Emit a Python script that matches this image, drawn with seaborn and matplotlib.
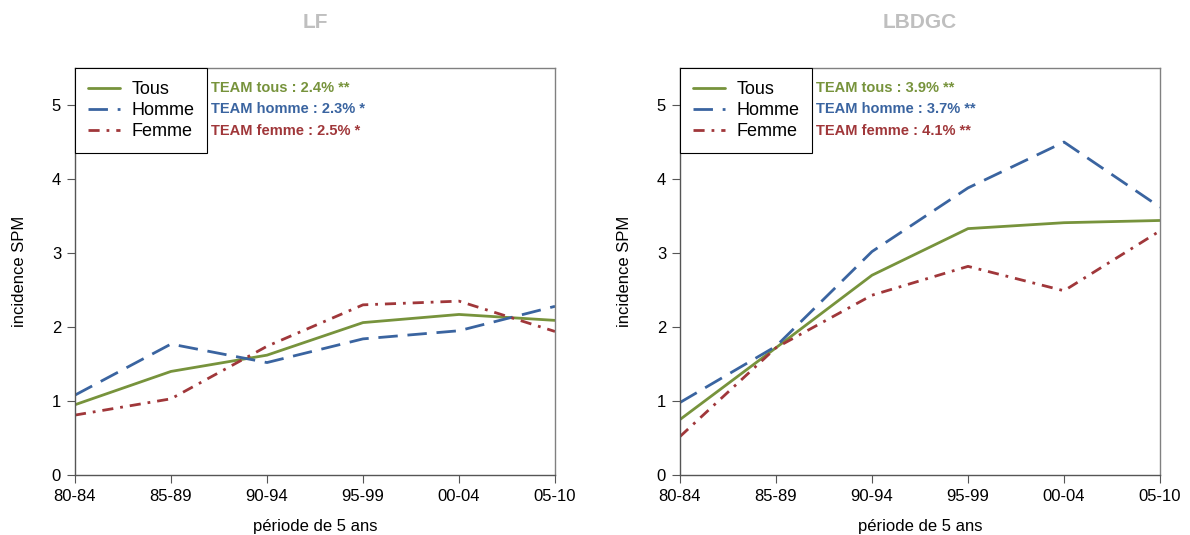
import pandas as pd
import seaborn as sns
import matplotlib.pyplot as plt
from matplotlib.lines import Line2D

periodes = ["80-84", "85-89", "90-94", "95-99", "00-04", "05-10"]
groupes = ["Tous", "Homme", "Femme"]

lf_tous = [0.95, 1.40, 1.62, 2.06, 2.17, 2.09]
lf_homme = [1.08, 1.77, 1.52, 1.84, 1.95, 2.28]
lf_femme = [0.81, 1.03, 1.74, 2.30, 2.35, 1.94]

lbdgc_tous = [0.75, 1.72, 2.70, 3.33, 3.41, 3.44]
lbdgc_homme = [0.98, 1.74, 3.02, 3.88, 4.50, 3.62]
lbdgc_femme = [0.52, 1.72, 2.43, 2.82, 2.49, 3.30]

team_lf = ["TEAM tous : 2.4% **", "TEAM homme : 2.3% *", "TEAM femme : 2.5% *"]
team_lbdgc = ["TEAM tous : 3.9% **", "TEAM homme : 3.7% **", "TEAM femme : 4.1% **"]

couleurs = {"Tous": "#77933C", "Homme": "#3A64A0", "Femme": "#A0373A"}
tirets = {"Tous": "", "Homme": (7, 3.5), "Femme": (4, 2.5, 1, 2.5)}

sns.set_style("ticks")
plt.rcParams['font.family'] = ['Liberation Sans', 'DejaVu Sans']
plt.rcParams['text.color'] = 'black'
plt.rcParams['axes.labelcolor'] = 'black'
plt.rcParams['xtick.color'] = 'black'
plt.rcParams['ytick.color'] = 'black'


def long_df(tous, homme, femme):
    rows = []
    for g, vals in zip(groupes, [tous, homme, femme]):
        for i, v in enumerate(vals):
            rows.append({"x": i, "groupe": g, "val": v})
    return pd.DataFrame(rows)


def panel(ax, df, titre, team):
    sns.lineplot(data=df, x="x", y="val", hue="groupe", style="groupe",
                 palette=couleurs, dashes=tirets, hue_order=groupes,
                 style_order=groupes, linewidth=2, ax=ax, legend=False)
    ax.set_xlim(0, len(periodes) - 1)
    ax.set_ylim(0, 5.5)
    ax.set_xticks(range(len(periodes)))
    ax.set_xticklabels(periodes, fontsize=12)
    ax.set_yticks(range(6))
    ax.set_yticklabels([str(i) for i in range(6)], fontsize=12)
    ax.set_xlabel("période de 5 ans", fontsize=12, labelpad=11)
    ax.set_ylabel("incidence SPM", fontsize=12, labelpad=18)
    ax.tick_params(length=6, color="#555555", pad=4)
    for s in ax.spines.values():
        s.set_visible(True)
        s.set_color("#808080")
        s.set_linewidth(1)
    ax.spines["left"].set_color("#555555")
    ax.spines["bottom"].set_color("#555555")
    fig.text((ax.get_position().x0 + ax.get_position().x1) / 2, 0.958, titre,
             ha="center", va="center", fontsize=15, fontweight="bold", color="#BFBFBF")

    handles = [Line2D([], [], color=couleurs[g], lw=2,
                      linestyle="-" if g == "Tous" else (0, tirets[g])) for g in groupes]
    leg = ax.legend(handles, groupes, loc="upper left", bbox_to_anchor=(0, 1),
                    borderaxespad=0, fancybox=False, edgecolor="black",
                    framealpha=1, fontsize=13, handlelength=1.75,
                    labelspacing=0.22, borderpad=0.72, handletextpad=0.65)
    leg.get_frame().set_linewidth(0.8)
    for i, (txt, g) in enumerate(zip(team, groupes)):
        ax.text(0.283, 0.952 - i * 0.053, txt, transform=ax.transAxes,
                color=couleurs[g], fontsize=10.5, fontweight="bold", va="center")


fig = plt.figure(figsize=(11.9, 5.35), dpi=100)
ax1 = fig.add_axes([0.063, 0.1121, 0.4034, 0.7607])
ax2 = fig.add_axes([0.5714, 0.1121, 0.4034, 0.7607])

panel(ax1, long_df(lf_tous, lf_homme, lf_femme), "LF", team_lf)
panel(ax2, long_df(lbdgc_tous, lbdgc_homme, lbdgc_femme), "LBDGC", team_lbdgc)

fig.savefig("out.png", dpi=100)
